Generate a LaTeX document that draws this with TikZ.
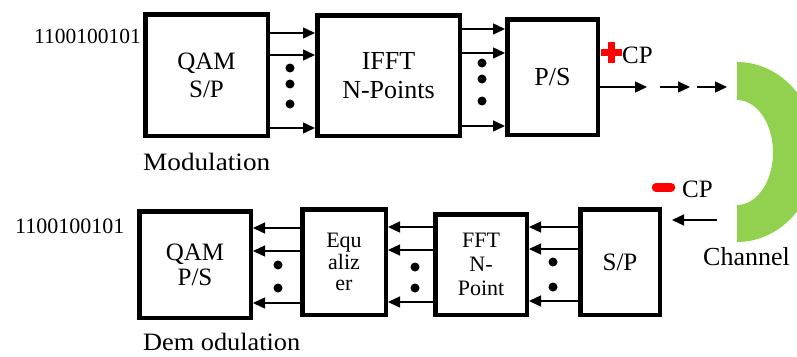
\documentclass[tikz,border=0pt]{standalone}
\usepackage{fontspec}
\setmainfont{Liberation Serif}
\usetikzlibrary{arrows.meta}
\newcommand\myfs[2]{\fontsize{#1}{#2}\selectfont}
\definecolor{chgreen}{RGB}{146,208,80}
\definecolor{cpred}{RGB}{255,0,0}
\begin{document}
\begin{tikzpicture}[x=1pt,y=-1pt,
  blk/.style={draw, line width=4.5pt, inner sep=0pt, align=center},
  arr/.style={line width=1.4pt, -{Triangle[length=12pt,width=11pt]}},
  dotc/.style={fill=black, radius=4.5}]
\useasboundingbox (0,0) rectangle (797,356);
% ---------- modulation row
\node[blk, minimum width=122.5pt, minimum height=121.5pt, font=\myfs{25}{28}] (qamT) at (206.5,75) {QAM\\S/P};
\node[blk, minimum width=142.5pt, minimum height=120.5pt, font=\myfs{26}{29}] (ifft) at (388.5,75.5) {IFFT\\N-Points};
\node[blk, minimum width=90.5pt, minimum height=115.5pt, font=\myfs{26}{28}] (psT) at (552.5,77) {P/S};
\node[anchor=base west, font=\myfs{21.5}{21.5}, inner sep=0pt] (bitsT) at (34,43) {1100100101};
\node[anchor=base west, font=\myfs{25}{25}, inner sep=0pt] (modl) at (143,170) {\resizebox{127pt}{\height}{Modulation}};
\foreach \yy in {33,55,128} \draw[arr] (qamT.east |- 0,\yy) -- (ifft.west |- 0,\yy);
\foreach \yy in {29,53,126} \draw[arr] (ifft.east |- 0,\yy) -- (psT.west |- 0,\yy);
\foreach \yy in {68,84,104} \fill[dotc] (290,\yy) circle;
\foreach \yy in {63,79,101} \fill[dotc] (482,\yy) circle;
% CP plus
\fill[cpred] (601,48.5) rectangle (622,55.5);
\fill[cpred] (608,42) rectangle (615,63);
\node[anchor=base west, font=\myfs{25}{25}, inner sep=0pt] (cpT) at (622,63) {CP};
% output arrows to channel
\coordinate (o1) at (647,87);
\coordinate (o2s) at (660,87);
\coordinate (o2) at (690,87);
\coordinate (o3s) at (697,87);
\coordinate (o3) at (727,87);
\draw[arr] (psT.east |- o1) -- (o1);
\draw[arr] (o2s) -- (o2);
\draw[arr] (o3s) -- (o3);
% channel
\begin{scope}
\clip (737,0) rectangle (797,356);
\fill[chgreen, even odd rule] (737,152) ellipse[x radius=80, y radius=90]
  (737,152.5) ellipse[x radius=36, y radius=52.5];
\end{scope}
\node[anchor=base west, font=\myfs{26}{26}, inner sep=0pt] (chan) at (703,265) {Channel};
% ---------- demodulation row
\node[blk, minimum width=111.5pt, minimum height=106.5pt, font=\myfs{25}{25}] (qamB) at (195,264.5) {QAM\\P/S};
\node[blk, minimum width=83.5pt, minimum height=105.5pt, font=\myfs{22}{21.5}] (eq) at (344,262) {Equ\\aliz\\er};
\node[blk, minimum width=91.5pt, minimum height=100.5pt, font=\myfs{22}{24}] (fft) at (481,264.5) {FFT\\N-\\Point};
\node[blk, minimum width=79.5pt, minimum height=105.5pt, font=\myfs{25}{25}] (spB) at (620,262) {S/P};
\node[anchor=base west, font=\myfs{22}{22}, inner sep=0pt] (bitsB) at (15,233) {1100100101};
\node[anchor=base west, font=\myfs{25}{25}, inner sep=0pt] (demod) at (143,350) {\resizebox{157pt}{\height}{Dem odulation}};
\foreach \yy in {227,249,301} \draw[arr] (spB.west |- 0,\yy) -- (fft.east |- 0,\yy);
\foreach \yy in {227,250,302} \draw[arr] (fft.west |- 0,\yy) -- (eq.east |- 0,\yy);
\foreach \yy in {228,251,303} \draw[arr] (eq.west |- 0,\yy) -- (qamB.east |- 0,\yy);
\foreach \yy in {265,288} \fill[dotc] (278,\yy) circle;
\foreach \yy in {267,288} \fill[dotc] (415,\yy) circle;
\foreach \yy in {262,287} \fill[dotc] (553,\yy) circle;
% CP minus
\draw[cpred, line width=8.5pt, line cap=round] (656,187.5) -- (671,187.5);
\node[anchor=base west, font=\myfs{25}{25}, inner sep=0pt] (cpB) at (682,197) {CP};
% channel to receiver
\coordinate (ch1) at (717,220);
\draw[arr, shorten >=10pt] (ch1) -- (spB.east |- ch1);
\end{tikzpicture}
\end{document}
